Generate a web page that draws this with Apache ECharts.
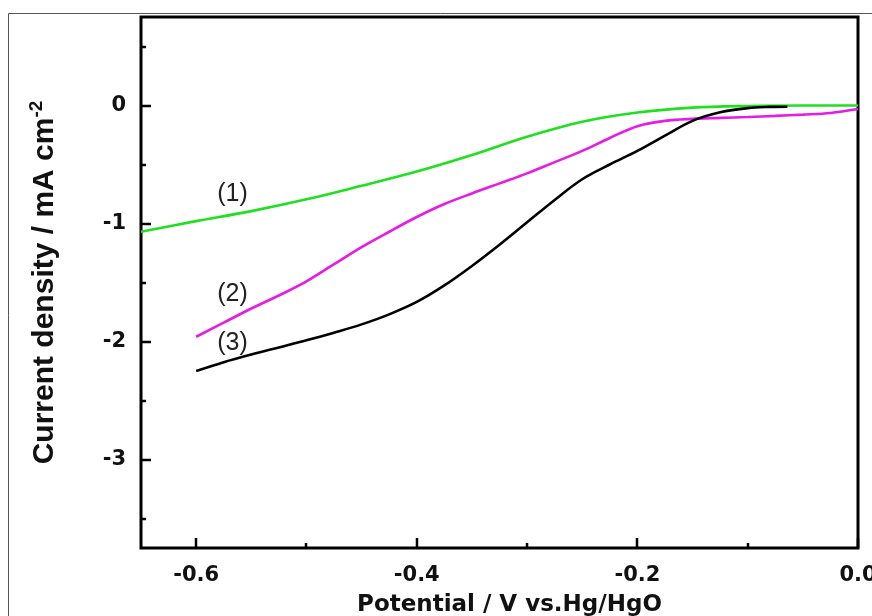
<!DOCTYPE html>
<html>
<head>
<meta charset="utf-8">
<style>
  html, body { margin: 0; padding: 0; background: #fff; }
  #chart { width: 872px; height: 616px; }
</style>
<script src="https://cdn.jsdelivr.net/npm/echarts@6/dist/echarts.min.js"></script>
</head>
<body>
<div id="chart"></div>
<script>
// Linear sweep voltammetry curves: potential (V vs. Hg/HgO) against current density (mA cm^-2)

// (1) green curve
const potential1 = [-0.65, -0.6, -0.55, -0.5, -0.45, -0.4, -0.35, -0.3, -0.25, -0.2, -0.15, -0.1, -0.05, 0.0];
const current1   = [-1.07, -0.98, -0.895, -0.795, -0.68, -0.56, -0.42, -0.265, -0.138, -0.06, -0.018, -0.004, 0.0, 0.0];

// (2) magenta curve
const potential2 = [-0.6, -0.575, -0.55, -0.525, -0.5, -0.475, -0.45, -0.425, -0.4, -0.375, -0.35, -0.325, -0.3, -0.275, -0.25, -0.225, -0.2, -0.175, -0.15, -0.125, -0.1, -0.075, -0.05, -0.025, 0.0];
const current2   = [-1.96, -1.84, -1.72, -1.61, -1.49, -1.345, -1.20, -1.07, -0.945, -0.835, -0.745, -0.66, -0.575, -0.48, -0.385, -0.275, -0.175, -0.13, -0.113, -0.105, -0.097, -0.088, -0.077, -0.063, -0.03];

// (3) black curve
const potential3 = [-0.6, -0.575, -0.55, -0.525, -0.5, -0.475, -0.45, -0.425, -0.4, -0.375, -0.35, -0.325, -0.3, -0.275, -0.25, -0.225, -0.2, -0.175, -0.15, -0.125, -0.1, -0.08, -0.064];
const current3   = [-2.25, -2.175, -2.11, -2.05, -1.99, -1.925, -1.855, -1.77, -1.665, -1.525, -1.36, -1.18, -0.99, -0.80, -0.625, -0.50, -0.385, -0.255, -0.13, -0.058, -0.022, -0.012, -0.01];

// Axis tick values
const xMajorTicks = [-0.6, -0.4, -0.2, 0.0];
const xMinorTicks = [-0.5, -0.3, -0.1];
const yMajorTicks = [-3, -2, -1, 0];
const yMinorTicks = [-3.5, -2.5, -1.5, -0.5, 0.5];

// Curve tags: [potential, current, text]
const curveTags = [
  [-0.567, -0.75, '(1)'],
  [-0.567, -1.60, '(2)'],
  [-0.567, -2.01, '(3)']
];

const lineColors = ['#1fe01f', '#e61ce6', '#000000'];

const xRange = [-0.65, 0];
const yRange = [-3.75, 0.75];

function pairs(xs, ys) { return xs.map((x, i) => [x, ys[i]]); }

const tickFont = { fontFamily: 'DejaVu Sans', fontWeight: 'bold', fontSize: 21, color: '#111' };

function tagPoint(i) {
  const t = curveTags[i];
  return {
    symbol: 'circle',
    symbolSize: 0,
    silent: true,
    label: {
      show: true,
      position: 'inside',
      formatter: '{b}',
      fontFamily: 'Liberation Sans',
      fontSize: 25,
      color: '#222'
    },
    data: [{ name: t[2], coord: [t[0], t[1]] }]
  };
}

function curve(name, xs, ys, color, tagIndex) {
  return {
    name: name,
    type: 'line',
    data: pairs(xs, ys),
    showSymbol: false,
    smooth: 0.35,
    lineStyle: { color: color, width: 2.6 },
    itemStyle: { color: color },
    markPoint: tagPoint(tagIndex),
    z: 3
  };
}

const chart = echarts.init(document.getElementById('chart'), null, { renderer: 'canvas' });

chart.setOption({
  backgroundColor: '#ffffff',
  animation: false,
  grid: {
    left: 141, right: 14, top: 17, bottom: 68,
    outerBoundsMode: 'none', containLabel: false,
    show: true, borderColor: '#000', borderWidth: 3, backgroundColor: 'transparent'
  },
  xAxis: {
    type: 'value',
    min: xRange[0],
    max: xRange[1],
    name: 'Potential / V vs.Hg/HgO',
    nameLocation: 'middle',
    nameGap: 46,
    nameTextStyle: { fontFamily: 'DejaVu Sans', fontWeight: 'bold', fontSize: 23, color: '#111', padding: [0, 0, 0, 20] },
    axisLine: { show: false, onZero: false },
    splitLine: { show: false },
    axisTick: { show: false },
    axisLabel: Object.assign({ margin: 17, customValues: xMajorTicks, formatter: v => v.toFixed(1) }, tickFont)
  },
  yAxis: {
    type: 'value',
    min: yRange[0],
    max: yRange[1],
    name: 'Current density / mA cm{sup|-2}',
    nameLocation: 'middle',
    nameGap: 96,
    nameRotate: 90,
    nameTextStyle: {
      fontFamily: 'Liberation Sans', fontWeight: 'bold', fontSize: 30, color: '#111',
      lineHeight: 36, verticalAlign: 'middle',
      rich: {
        sup: { fontFamily: 'Liberation Sans', fontWeight: 'bold', fontSize: 19, color: '#111', verticalAlign: 'top', lineHeight: 16 }
      }
    },
    axisLine: { show: false, onZero: false },
    splitLine: { show: false },
    axisTick: { show: false },
    axisLabel: Object.assign({ margin: 15, customValues: yMajorTicks, formatter: v => String(v) }, tickFont)
  },
  series: [
    curve('(1)', potential1, current1, lineColors[0], 0),
    curve('(2)', potential2, current2, lineColors[1], 1),
    curve('(3)', potential3, current3, lineColors[2], 2)
  ]
});

// Inward tick marks on the bottom and left frame, placed through the axis scales
const xAt = v => chart.convertToPixel({ xAxisIndex: 0 }, v);
const yAt = v => chart.convertToPixel({ yAxisIndex: 0 }, v);
const frameBottom = yAt(yRange[0]);
const frameLeft = xAt(xRange[0]);
const tickStyle = { stroke: '#000000', lineWidth: 2.5, opacity: 1 };

function xTick(v, len) {
  const px = Math.round(xAt(v));
  return { type: 'rect', silent: true, zlevel: 1, z: 100, shape: { x: px - 1.25, y: frameBottom - len, width: 2.5, height: len }, style: { fill: '#000000' } };
}
function yTick(v, len) {
  const py = Math.round(yAt(v));
  return { type: 'rect', silent: true, zlevel: 1, z: 100, shape: { x: frameLeft, y: py - 1.25, width: len, height: 2.5 }, style: { fill: '#000000' } };
}

chart.setOption({
  graphic: [{
    type: 'rect',
    silent: true,
    shape: { x: 8.5, y: 13.5, width: 900, height: 700 },
    style: { fill: 'none', stroke: '#555', lineWidth: 1 },
    z: -1
  }]
    .concat(xMajorTicks.map(v => xTick(v, 10)))
    .concat(xMinorTicks.map(v => xTick(v, 5)))
    .concat(yMajorTicks.map(v => yTick(v, 10)))
    .concat(yMinorTicks.map(v => yTick(v, 5)))
});
</script>
</body>
</html>
